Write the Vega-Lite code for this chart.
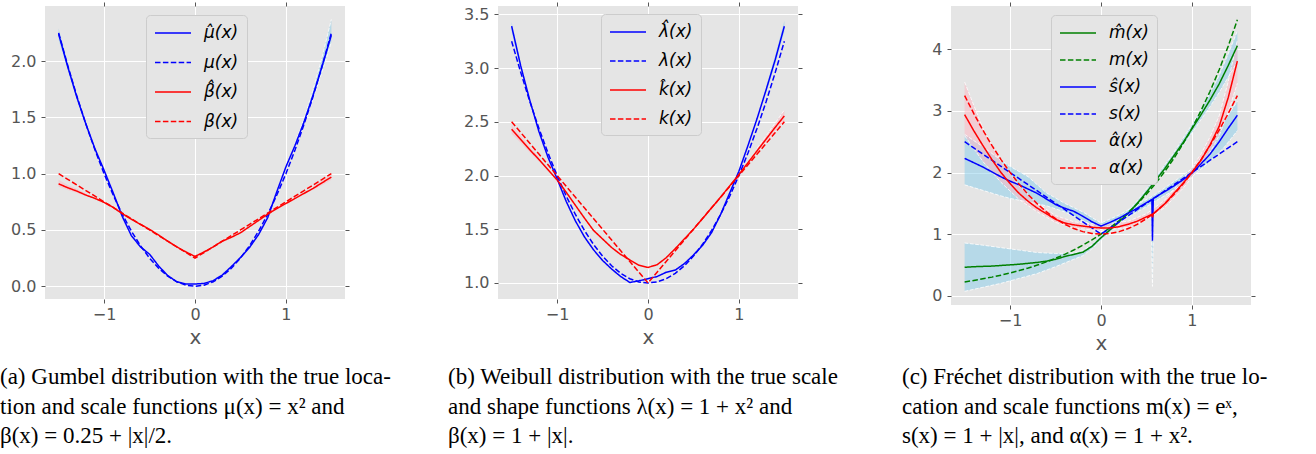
{
"$schema":"https://vega.github.io/schema/vega-lite/v6.json",
"background":"white",
"padding":{"left":0,"top":1,"right":0,"bottom":0},
"spacing":153,
"bounds":"flush",
"resolve":{"scale":{"color":"independent","strokeDash":"independent","fill":"independent"},"legend":{"color":"independent","strokeDash":"independent"}},
"hconcat":[
{
"width":300,"height":293,
"title":{"text":["(a) Gumbel distribution with the true loca-","tion and scale functions μ(x) = x² and","β(x) = 0.25 + |x|/2."],"orient":"bottom","anchor":"start","frame":"group","dx":-45,"offset":19},
"layer":[
{"data":{"values":[
{"x":1.1,"band":"mu","lo":1.235,"hi":1.27},{"x":1.2,"band":"mu","lo":1.435,"hi":1.49},{"x":1.3,"band":"mu","lo":1.665,"hi":1.75},{"x":1.4,"band":"mu","lo":1.91,"hi":2.04},{"x":1.5,"band":"mu","lo":2.17,"hi":2.37},
{"x":-1.5,"band":"mul","lo":2.19,"hi":2.29},{"x":-1.4,"band":"mul","lo":1.92,"hi":1.99},{"x":-1.3,"band":"mul","lo":1.66,"hi":1.7},{"x":-1.2,"band":"mul","lo":1.43,"hi":1.45},
{"x":-1.5,"band":"bel","lo":0.885,"hi":0.945},{"x":-1.4,"band":"bel","lo":0.855,"hi":0.9},{"x":-1.3,"band":"bel","lo":0.83,"hi":0.865},{"x":-1.2,"band":"bel","lo":0.8,"hi":0.825},
{"x":1.3,"band":"ber","lo":0.855,"hi":0.885},{"x":1.4,"band":"ber","lo":0.9,"hi":0.94},{"x":1.5,"band":"ber","lo":0.945,"hi":0.995}
]},
"mark":{"type":"area","opacity":0.5},
"encoding":{
"x":{"field":"x","type":"quantitative","scale":{"domain":[-1.65,1.65],"nice":false,"zero":false},"axis":{"orient":"top","labels":false,"ticks":true,"grid":false,"title":null,"values":[-1,0,1]}},
"y":{"field":"lo","type":"quantitative","scale":{"domain":[-0.113,2.489],"nice":false,"zero":false},"axis":{"orient":"right","labels":false,"ticks":true,"grid":false,"title":null,"values":[0,0.5,1,1.5,2]}},
"y2":{"field":"hi"},
"fill":{"field":"band","type":"nominal","scale":{"domain":["mu","mul","bel","ber"],"range":["#87CEEB","#87CEEB","#FFB6C1","#FFB6C1"]},"legend":null},
"detail":{"field":"band"}}},
{"data":{"values":[
{"x":1.1,"band":"mu","lo":1.235,"hi":1.27},{"x":1.2,"band":"mu","lo":1.435,"hi":1.49},{"x":1.3,"band":"mu","lo":1.665,"hi":1.75},{"x":1.4,"band":"mu","lo":1.91,"hi":2.04},{"x":1.5,"band":"mu","lo":2.17,"hi":2.37}
]},
"transform":[{"fold":["lo","hi"],"as":["edge","v"]}],
"mark":{"type":"line","stroke":"#FFFFFF","strokeWidth":1,"strokeDash":[3.7,1.6],"opacity":0.8},
"encoding":{"x":{"field":"x","type":"quantitative","axis":null},"y":{"field":"v","type":"quantitative","axis":null},"detail":[{"field":"band"},{"field":"edge"}]}},
{"data":{"values":[
{"x":-1.5,"muh":2.24,"mu":2.25,"beh":0.91,"be":1.0},
{"x":-1.4,"muh":1.95,"mu":1.96,"beh":0.875,"be":0.95},
{"x":-1.3,"muh":1.68,"mu":1.69,"beh":0.845,"be":0.9},
{"x":-1.2,"muh":1.44,"mu":1.44,"beh":0.81,"be":0.85},
{"x":-1.1,"muh":1.22,"mu":1.21,"beh":0.78,"be":0.8},
{"x":-1.0,"muh":1.03,"mu":1.0,"beh":0.745,"be":0.75},
{"x":-0.9,"muh":0.83,"mu":0.81,"beh":0.7,"be":0.7},
{"x":-0.8,"muh":0.62,"mu":0.64,"beh":0.645,"be":0.65},
{"x":-0.7,"muh":0.45,"mu":0.49,"beh":0.595,"be":0.6},
{"x":-0.6,"muh":0.35,"mu":0.36,"beh":0.55,"be":0.55},
{"x":-0.5,"muh":0.285,"mu":0.25,"beh":0.505,"be":0.5},
{"x":-0.4,"muh":0.18,"mu":0.16,"beh":0.455,"be":0.45},
{"x":-0.3,"muh":0.095,"mu":0.09,"beh":0.4,"be":0.4},
{"x":-0.2,"muh":0.04,"mu":0.04,"beh":0.35,"be":0.35},
{"x":-0.1,"muh":0.02,"mu":0.01,"beh":0.305,"be":0.3},
{"x":0,"muh":0.02,"mu":0,"beh":0.265,"be":0.25},
{"x":0.1,"muh":0.025,"mu":0.01,"beh":0.305,"be":0.3},
{"x":0.2,"muh":0.05,"mu":0.04,"beh":0.35,"be":0.35},
{"x":0.3,"muh":0.1,"mu":0.09,"beh":0.4,"be":0.4},
{"x":0.4,"muh":0.175,"mu":0.16,"beh":0.435,"be":0.45},
{"x":0.5,"muh":0.255,"mu":0.25,"beh":0.475,"be":0.5},
{"x":0.6,"muh":0.345,"mu":0.36,"beh":0.53,"be":0.55},
{"x":0.7,"muh":0.46,"mu":0.49,"beh":0.585,"be":0.6},
{"x":0.8,"muh":0.61,"mu":0.64,"beh":0.64,"be":0.65},
{"x":0.9,"muh":0.84,"mu":0.81,"beh":0.69,"be":0.7},
{"x":1.0,"muh":1.06,"mu":1.0,"beh":0.735,"be":0.75},
{"x":1.1,"muh":1.25,"mu":1.21,"beh":0.78,"be":0.8},
{"x":1.2,"muh":1.46,"mu":1.44,"beh":0.825,"be":0.85},
{"x":1.3,"muh":1.7,"mu":1.69,"beh":0.87,"be":0.9},
{"x":1.4,"muh":1.96,"mu":1.96,"beh":0.92,"be":0.95},
{"x":1.5,"muh":2.23,"mu":2.25,"beh":0.97,"be":1.0}
]},
"transform":[{"fold":["muh","mu","beh","be"],"as":["key","val"]}],
"mark":{"type":"line","strokeWidth":1.5},
"encoding":{
"x":{"field":"x","type":"quantitative","axis":{"orient":"bottom","title":"x","grid":true,"values":[-1,0,1],"format":"d"}},
"y":{"field":"val","type":"quantitative","axis":{"orient":"left","title":null,"grid":true,"values":[0,0.5,1,1.5,2],"format":".1f"}},
"color":{"field":"key","type":"nominal","scale":{"domain":["muh","mu","beh","be"],"range":["#0000FF","#0000FF","#FF0000","#FF0000"]},"legend":{"title":null,"legendX":101,"legendY":9,"rowPadding":11.5,"labelExpr":"{'muh':'μ\u0302(x)','mu':'μ(x)','beh':'β\u0302(x)','be':'β(x)'}[datum.label]"}},
"strokeDash":{"field":"key","type":"nominal","scale":{"domain":["muh","mu","beh","be"],"range":[[1,0],[5.5,2.4],[1,0],[5.5,2.4]]},"legend":{"title":null,"legendX":101,"legendY":9,"rowPadding":11.5,"labelExpr":"{'muh':'μ\u0302(x)','mu':'μ(x)','beh':'β\u0302(x)','be':'β(x)'}[datum.label]"}}}}
],
"resolve":{"axis":{"x":"independent","y":"independent"}}
},
{
"width":300,"height":293,
"title":{"text":["(b) Weibull distribution with the true scale","and shape functions λ(x) = 1 + x² and","β(x) = 1 + |x|."],"orient":"bottom","anchor":"start","frame":"group","dx":-50,"offset":19},
"layer":[
{"data":{"values":[
{"x":-1.5,"band":"lal","lo":3.34,"hi":3.43},{"x":-1.4,"band":"lal","lo":2.99,"hi":3.05},
{"x":1.3,"band":"lar","lo":2.77,"hi":2.83},{"x":1.4,"band":"lar","lo":3.04,"hi":3.12},{"x":1.5,"band":"lar","lo":3.34,"hi":3.44},
{"x":-1.5,"band":"kl","lo":2.39,"hi":2.47},{"x":-1.4,"band":"kl","lo":2.305,"hi":2.37},{"x":-1.3,"band":"kl","lo":2.215,"hi":2.265},{"x":-1.2,"band":"kl","lo":2.13,"hi":2.17},
{"x":1.2,"band":"kr","lo":2.205,"hi":2.255},{"x":1.3,"band":"kr","lo":2.31,"hi":2.37},{"x":1.4,"band":"kr","lo":2.41,"hi":2.49},{"x":1.5,"band":"kr","lo":2.505,"hi":2.61}
]},
"mark":{"type":"area","opacity":0.5},
"encoding":{
"x":{"field":"x","type":"quantitative","scale":{"domain":[-1.65,1.65],"nice":false,"zero":false},"axis":{"orient":"top","labels":false,"ticks":true,"grid":false,"title":null,"values":[-1,0,1]}},
"y":{"field":"lo","type":"quantitative","scale":{"domain":[0.851,3.578],"nice":false,"zero":false},"axis":{"orient":"right","labels":false,"ticks":true,"grid":false,"title":null,"values":[1,1.5,2,2.5,3,3.5]}},
"y2":{"field":"hi"},
"fill":{"field":"band","type":"nominal","scale":{"domain":["lal","lar","kl","kr"],"range":["#87CEEB","#87CEEB","#FFB6C1","#FFB6C1"]},"legend":null},
"detail":{"field":"band"}}},
{"data":{"values":[
{"x":1.2,"band":"kr","lo":2.205,"hi":2.255},{"x":1.3,"band":"kr","lo":2.31,"hi":2.37},{"x":1.4,"band":"kr","lo":2.41,"hi":2.49},{"x":1.5,"band":"kr","lo":2.505,"hi":2.61}
]},
"transform":[{"fold":["lo","hi"],"as":["edge","v"]}],
"mark":{"type":"line","stroke":"#FFFFFF","strokeWidth":1,"strokeDash":[3.7,1.6],"opacity":0.8},
"encoding":{"x":{"field":"x","type":"quantitative","axis":null},"y":{"field":"v","type":"quantitative","axis":null},"detail":[{"field":"band"},{"field":"edge"}]}},
{"data":{"values":[
{"x":-1.5,"lah":3.39,"la":3.25,"kh":2.43,"k":2.5},
{"x":-1.4,"lah":3.02,"la":2.96,"kh":2.335,"k":2.4},
{"x":-1.3,"lah":2.7,"la":2.69,"kh":2.24,"k":2.3},
{"x":-1.2,"lah":2.41,"la":2.44,"kh":2.15,"k":2.2},
{"x":-1.1,"lah":2.17,"la":2.21,"kh":2.055,"k":2.1},
{"x":-1.0,"lah":1.97,"la":2.0,"kh":1.96,"k":2.0},
{"x":-0.9,"lah":1.76,"la":1.81,"kh":1.845,"k":1.9},
{"x":-0.8,"lah":1.58,"la":1.64,"kh":1.725,"k":1.8},
{"x":-0.7,"lah":1.43,"la":1.49,"kh":1.605,"k":1.7},
{"x":-0.6,"lah":1.31,"la":1.36,"kh":1.49,"k":1.6},
{"x":-0.5,"lah":1.21,"la":1.25,"kh":1.41,"k":1.5},
{"x":-0.4,"lah":1.13,"la":1.16,"kh":1.33,"k":1.4},
{"x":-0.3,"lah":1.06,"la":1.09,"kh":1.265,"k":1.3},
{"x":-0.2,"lah":1.005,"la":1.04,"kh":1.215,"k":1.2},
{"x":-0.1,"lah":1.02,"la":1.01,"kh":1.165,"k":1.1},
{"x":0,"lah":1.04,"la":1.0,"kh":1.145,"k":1.0},
{"x":0.1,"lah":1.06,"la":1.01,"kh":1.17,"k":1.1},
{"x":0.2,"lah":1.1,"la":1.04,"kh":1.235,"k":1.2},
{"x":0.3,"lah":1.12,"la":1.09,"kh":1.32,"k":1.3},
{"x":0.4,"lah":1.18,"la":1.16,"kh":1.41,"k":1.4},
{"x":0.5,"lah":1.26,"la":1.25,"kh":1.5,"k":1.5},
{"x":0.6,"lah":1.35,"la":1.36,"kh":1.6,"k":1.6},
{"x":0.7,"lah":1.47,"la":1.49,"kh":1.7,"k":1.7},
{"x":0.8,"lah":1.64,"la":1.64,"kh":1.8,"k":1.8},
{"x":0.9,"lah":1.84,"la":1.81,"kh":1.905,"k":1.9},
{"x":1.0,"lah":2.04,"la":2.0,"kh":2.01,"k":2.0},
{"x":1.1,"lah":2.28,"la":2.21,"kh":2.12,"k":2.1},
{"x":1.2,"lah":2.53,"la":2.44,"kh":2.23,"k":2.2},
{"x":1.3,"lah":2.8,"la":2.69,"kh":2.34,"k":2.3},
{"x":1.4,"lah":3.08,"la":2.96,"kh":2.45,"k":2.4},
{"x":1.5,"lah":3.39,"la":3.25,"kh":2.555,"k":2.5}
]},
"transform":[{"fold":["lah","la","kh","k"],"as":["key","val"]}],
"mark":{"type":"line","strokeWidth":1.5},
"encoding":{
"x":{"field":"x","type":"quantitative","axis":{"orient":"bottom","title":"x","grid":true,"values":[-1,0,1],"format":"d"}},
"y":{"field":"val","type":"quantitative","axis":{"orient":"left","title":null,"grid":true,"values":[1,1.5,2,2.5,3,3.5],"format":".1f"}},
"color":{"field":"key","type":"nominal","scale":{"domain":["lah","la","kh","k"],"range":["#0000FF","#0000FF","#FF0000","#FF0000"]},"legend":{"title":null,"legendX":103,"legendY":8,"rowPadding":11,"labelExpr":"{'lah':'λ\u0302(x)','la':'λ(x)','kh':'k\u0302(x)','k':'k(x)'}[datum.label]"}},
"strokeDash":{"field":"key","type":"nominal","scale":{"domain":["lah","la","kh","k"],"range":[[1,0],[5.5,2.4],[1,0],[5.5,2.4]]},"legend":{"title":null,"legendX":103,"legendY":8,"rowPadding":11,"labelExpr":"{'lah':'λ\u0302(x)','la':'λ(x)','kh':'k\u0302(x)','k':'k(x)'}[datum.label]"}}}}
],
"resolve":{"axis":{"x":"independent","y":"independent"}}
},
{
"width":300,"height":299,
"title":{"text":["(c) Fréchet distribution with the true lo-","cation and scale functions m(x) = eˣ,","s(x) = 1 + |x|, and α(x) = 1 + x²."],"orient":"bottom","anchor":"start","frame":"group","dx":-49,"offset":13},
"layer":[
{"data":{"name":"bandsC","values":[
{"x":-1.5,"band":"m","lo":0.07,"hi":0.855},{"x":-1.3,"band":"m","lo":0.135,"hi":0.82},{"x":-1.1,"band":"m","lo":0.2,"hi":0.78},{"x":-0.9,"band":"m","lo":0.28,"hi":0.74},{"x":-0.7,"band":"m","lo":0.36,"hi":0.7},{"x":-0.5,"band":"m","lo":0.47,"hi":0.685},{"x":-0.3,"band":"m","lo":0.59,"hi":0.69},{"x":-0.2,"band":"m","lo":0.65,"hi":0.73},{"x":-0.1,"band":"m","lo":0.76,"hi":0.83},{"x":0,"band":"m","lo":0.9,"hi":0.98},{"x":0.2,"band":"m","lo":1.16,"hi":1.24},{"x":0.4,"band":"m","lo":1.46,"hi":1.54},{"x":0.6,"band":"m","lo":1.83,"hi":1.92},{"x":0.8,"band":"m","lo":2.22,"hi":2.32},{"x":1.0,"band":"m","lo":2.64,"hi":2.78},{"x":1.1,"band":"m","lo":2.86,"hi":3.02},{"x":1.2,"band":"m","lo":3.07,"hi":3.29},{"x":1.3,"band":"m","lo":3.3,"hi":3.58},{"x":1.4,"band":"m","lo":3.55,"hi":3.93},{"x":1.5,"band":"m","lo":3.8,"hi":4.3},
{"x":-1.5,"band":"s","lo":1.8,"hi":2.62},{"x":-1.3,"band":"s","lo":1.71,"hi":2.42},{"x":-1.1,"band":"s","lo":1.62,"hi":2.2},{"x":-1.0,"band":"s","lo":1.58,"hi":2.1},{"x":-0.8,"band":"s","lo":1.52,"hi":1.93},{"x":-0.6,"band":"s","lo":1.46,"hi":1.67},{"x":-0.4,"band":"s","lo":1.36,"hi":1.5},{"x":-0.2,"band":"s","lo":1.22,"hi":1.36},{"x":0,"band":"s","lo":1.07,"hi":1.18},{"x":0.2,"band":"s","lo":1.2,"hi":1.31},{"x":0.4,"band":"s","lo":1.36,"hi":1.48},{"x":0.55,"band":"s","lo":1.49,"hi":1.6},{"x":0.566,"band":"s","lo":0.15,"hi":1.62},{"x":0.58,"band":"s","lo":1.52,"hi":1.63},{"x":0.8,"band":"s","lo":1.71,"hi":1.85},{"x":1.0,"band":"s","lo":1.93,"hi":2.06},{"x":1.2,"band":"s","lo":2.18,"hi":2.42},{"x":1.35,"band":"s","lo":2.4,"hi":2.82},{"x":1.5,"band":"s","lo":2.68,"hi":3.16},
{"x":-1.5,"band":"a","lo":2.6,"hi":3.47},{"x":-1.3,"band":"a","lo":2.18,"hi":2.72},{"x":-1.1,"band":"a","lo":1.84,"hi":2.18},{"x":-0.9,"band":"a","lo":1.56,"hi":1.78},{"x":-0.7,"band":"a","lo":1.36,"hi":1.5},{"x":-0.5,"band":"a","lo":1.19,"hi":1.3},{"x":-0.3,"band":"a","lo":1.1,"hi":1.2},{"x":0,"band":"a","lo":1.05,"hi":1.15},{"x":0.3,"band":"a","lo":1.11,"hi":1.21},{"x":0.5,"band":"a","lo":1.23,"hi":1.33},{"x":0.7,"band":"a","lo":1.43,"hi":1.55},{"x":0.9,"band":"a","lo":1.74,"hi":1.9},{"x":1.0,"band":"a","lo":1.92,"hi":2.08},{"x":1.1,"band":"a","lo":2.11,"hi":2.3},{"x":1.2,"band":"a","lo":2.33,"hi":2.58},{"x":1.3,"band":"a","lo":2.6,"hi":2.92},{"x":1.4,"band":"a","lo":2.98,"hi":3.48},{"x":1.5,"band":"a","lo":3.45,"hi":4.15}
]},
"mark":{"type":"area","opacity":0.5},
"encoding":{
"x":{"field":"x","type":"quantitative","scale":{"domain":[-1.65,1.65],"nice":false,"zero":false},"axis":{"orient":"top","labels":false,"ticks":true,"grid":false,"title":null,"values":[-1,0,1]}},
"y":{"field":"lo","type":"quantitative","scale":{"domain":[-0.152,4.705],"nice":false,"zero":false},"axis":{"orient":"right","labels":false,"ticks":true,"grid":false,"title":null,"values":[0,1,2,3,4]}},
"y2":{"field":"hi"},
"fill":{"field":"band","type":"nominal","scale":{"domain":["m","s","a"],"range":["#87CEEB","#87CEEB","#FFB6C1"]},"legend":null},
"detail":{"field":"band"}}},
{"data":{"name":"bandsC"},
"transform":[{"fold":["lo","hi"],"as":["edge","v"]}],
"mark":{"type":"line","stroke":"#FFFFFF","strokeWidth":1,"strokeDash":[3.7,1.6],"opacity":0.8},
"encoding":{"x":{"field":"x","type":"quantitative","axis":null},"y":{"field":"v","type":"quantitative","axis":null},"detail":[{"field":"band"},{"field":"edge"}]}},
{"data":{"values":[
{"x":-1.5,"mh":0.46,"m":0.223,"sh":2.23,"s":2.5,"ah":2.94,"a":3.25},
{"x":-1.4,"mh":0.47,"m":0.247,"sh":2.16,"s":2.4,"ah":2.68,"a":2.96},
{"x":-1.3,"mh":0.475,"m":0.273,"sh":2.09,"s":2.3,"ah":2.44,"a":2.69},
{"x":-1.2,"mh":0.48,"m":0.301,"sh":2.01,"s":2.2,"ah":2.21,"a":2.44},
{"x":-1.1,"mh":0.49,"m":0.333,"sh":1.93,"s":2.1,"ah":2.0,"a":2.21},
{"x":-1.0,"mh":0.5,"m":0.368,"sh":1.86,"s":2.0,"ah":1.82,"a":2.0},
{"x":-0.9,"mh":0.51,"m":0.407,"sh":1.8,"s":1.9,"ah":1.66,"a":1.81},
{"x":-0.8,"mh":0.525,"m":0.449,"sh":1.73,"s":1.8,"ah":1.53,"a":1.64},
{"x":-0.7,"mh":0.54,"m":0.497,"sh":1.66,"s":1.7,"ah":1.42,"a":1.49},
{"x":-0.6,"mh":0.56,"m":0.549,"sh":1.57,"s":1.6,"ah":1.33,"a":1.36},
{"x":-0.5,"mh":0.59,"m":0.607,"sh":1.48,"s":1.5,"ah":1.24,"a":1.25},
{"x":-0.4,"mh":0.635,"m":0.67,"sh":1.42,"s":1.4,"ah":1.18,"a":1.16},
{"x":-0.3,"mh":0.67,"m":0.741,"sh":1.37,"s":1.3,"ah":1.15,"a":1.09},
{"x":-0.2,"mh":0.705,"m":0.819,"sh":1.29,"s":1.2,"ah":1.13,"a":1.04},
{"x":-0.1,"mh":0.8,"m":0.905,"sh":1.2,"s":1.1,"ah":1.11,"a":1.01},
{"x":0,"mh":0.94,"m":1.0,"sh":1.13,"s":1.0,"ah":1.1,"a":1.0},
{"x":0.1,"mh":1.07,"m":1.105,"sh":1.19,"s":1.1,"ah":1.1,"a":1.01},
{"x":0.2,"mh":1.2,"m":1.221,"sh":1.26,"s":1.2,"ah":1.12,"a":1.04},
{"x":0.3,"mh":1.34,"m":1.35,"sh":1.34,"s":1.3,"ah":1.16,"a":1.09},
{"x":0.4,"mh":1.5,"m":1.492,"sh":1.42,"s":1.4,"ah":1.21,"a":1.16},
{"x":0.5,"mh":1.68,"m":1.649,"sh":1.51,"s":1.5,"ah":1.28,"a":1.25},
{"x":0.56,"mh":1.79,"m":1.751,"sh":1.56,"s":1.56,"ah":1.32,"a":1.314},
{"x":0.566,"mh":1.8,"m":1.761,"sh":0.89,"s":1.566,"ah":1.27,"a":1.32},
{"x":0.575,"mh":1.82,"m":1.777,"sh":1.58,"s":1.575,"ah":1.33,"a":1.331},
{"x":0.6,"mh":1.87,"m":1.822,"sh":1.6,"s":1.6,"ah":1.36,"a":1.36},
{"x":0.7,"mh":2.06,"m":2.014,"sh":1.69,"s":1.7,"ah":1.49,"a":1.49},
{"x":0.8,"mh":2.27,"m":2.226,"sh":1.78,"s":1.8,"ah":1.66,"a":1.64},
{"x":0.9,"mh":2.48,"m":2.46,"sh":1.88,"s":1.9,"ah":1.82,"a":1.81},
{"x":1.0,"mh":2.71,"m":2.718,"sh":1.99,"s":2.0,"ah":2.0,"a":2.0},
{"x":1.1,"mh":2.94,"m":3.004,"sh":2.14,"s":2.1,"ah":2.2,"a":2.21},
{"x":1.2,"mh":3.18,"m":3.32,"sh":2.3,"s":2.2,"ah":2.45,"a":2.44},
{"x":1.3,"mh":3.44,"m":3.669,"sh":2.5,"s":2.3,"ah":2.75,"a":2.69},
{"x":1.4,"mh":3.74,"m":4.055,"sh":2.72,"s":2.4,"ah":3.22,"a":2.96},
{"x":1.5,"mh":4.06,"m":4.482,"sh":2.93,"s":2.5,"ah":3.81,"a":3.25}
]},
"transform":[{"fold":["mh","m","sh","s","ah","a"],"as":["key","val"]}],
"mark":{"type":"line","strokeWidth":1.5},
"encoding":{
"x":{"field":"x","type":"quantitative","axis":{"orient":"bottom","title":"x","grid":true,"values":[-1,0,1],"format":"d"}},
"y":{"field":"val","type":"quantitative","axis":{"orient":"left","title":null,"grid":true,"values":[0,1,2,3,4],"format":"d"}},
"color":{"field":"key","type":"nominal","scale":{"domain":["mh","m","sh","s","ah","a"],"range":["#008000","#008000","#0000FF","#0000FF","#FF0000","#FF0000"]},"legend":{"title":null,"legendX":100,"legendY":9,"rowPadding":9,"labelExpr":"{'mh':'m\u0302(x)','m':'m(x)','sh':'ŝ(x)','s':'s(x)','ah':'α\u0302(x)','a':'α(x)'}[datum.label]"}},
"strokeDash":{"field":"key","type":"nominal","scale":{"domain":["mh","m","sh","s","ah","a"],"range":[[1,0],[5.5,2.4],[1,0],[5.5,2.4],[1,0],[5.5,2.4]]},"legend":{"title":null,"legendX":100,"legendY":9,"rowPadding":9,"labelExpr":"{'mh':'m\u0302(x)','m':'m(x)','sh':'ŝ(x)','s':'s(x)','ah':'α\u0302(x)','a':'α(x)'}[datum.label]"}}}}
],
"resolve":{"axis":{"x":"independent","y":"independent"}}
}
],
"config":{
"view":{"fill":"#E5E5E5","stroke":null},
"axis":{"domain":false,"gridColor":"#FFFFFF","gridWidth":1,"gridOpacity":1,"tickColor":"#555555","tickSize":4,"tickWidth":1,"labelFont":"DejaVu Sans","labelFontSize":16,"labelColor":"#555555","titleFont":"DejaVu Sans","titleFontSize":20,"titleFontWeight":"normal","titleColor":"#555555"},
"axisX":{"labelPadding":3,"titlePadding":5},
"axisY":{"labelPadding":5},
"legend":{"orient":"none","labelFont":"DejaVu Sans","labelFontStyle":"italic","labelFontSize":17,"labelColor":"#000000","symbolType":"M-2,0L2,0","symbolSize":324,"symbolStrokeWidth":1.5,"fillColor":"#E5E5E5","strokeColor":"#CCCCCC","cornerRadius":4,"padding":8,"rowPadding":10,"symbolOffset":9,"labelOffset":21},
"title":{"font":"Liberation Serif","fontSize":23,"fontWeight":"normal","color":"#000000","lineHeight":29.5,"baseline":"top"}
}
}
